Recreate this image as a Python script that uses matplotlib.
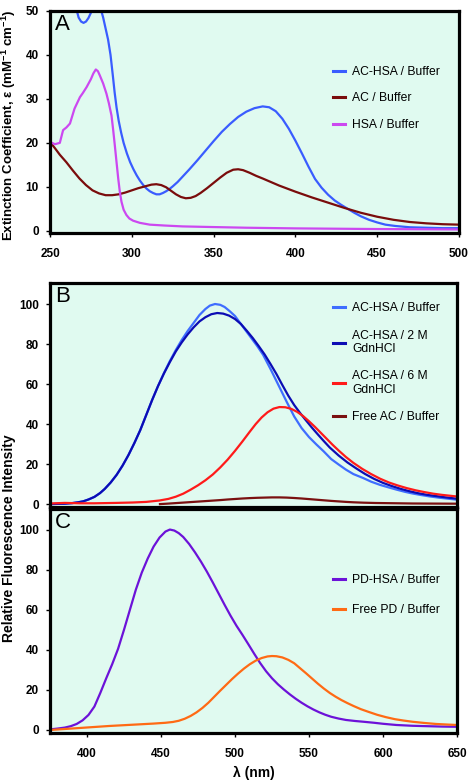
import matplotlib
matplotlib.use("Agg")
import matplotlib.pyplot as plt

plt.rcParams['font.family'] = ['Liberation Sans', 'DejaVu Sans']
plt.rcParams['mathtext.fontset'] = 'custom'
plt.rcParams['mathtext.rm'] = 'Liberation Sans'
plt.rcParams['mathtext.bf'] = 'Liberation Sans:bold'

# ---------------- Panel A: absorption ----------------
a_achsa_x = [262, 264, 266.3, 267.5, 269, 270.5, 272, 273.5, 275, 276.5, 279, 281, 282.5, 284, 285.5, 287,
             288.5, 289.5, 290.7, 292, 293.5, 295, 297, 299, 301, 303, 305, 307, 309, 311, 313, 315, 317,
             319, 321, 323, 325, 328, 331, 335, 340, 345, 350, 355, 360, 365, 370, 375, 380, 384, 388,
             392, 396, 400, 404, 408, 412, 416, 420, 424, 428, 432, 436, 440, 445, 450, 455, 461, 470,
             480, 490, 500]
a_achsa_y = [60, 55, 50.2, 48.5, 47.6, 47.3, 47.6, 48.4, 49.6, 51, 53, 50.5, 48.5, 46, 43.5, 40,
             35, 31.5, 28, 25, 22.3, 20, 17.6, 15.6, 14.0, 12.6, 11.4, 10.4, 9.6, 9.0, 8.6, 8.3, 8.3,
             8.6, 9.0, 9.5, 10.1, 11.1, 12.3, 13.9, 16.0, 18.2, 20.4, 22.5, 24.3, 25.9, 27.1, 27.9, 28.3, 28.1, 27.2,
             25.5, 23.2, 20.5, 17.6, 14.6, 11.8, 9.8, 8.2, 6.9, 5.9, 5.0, 4.1, 3.3, 2.5, 1.9, 1.4, 1.1, 0.8,
             0.7, 0.6, 0.6]

a_ac_x = [250, 253, 256, 260, 264, 268, 272, 276, 280, 284, 288, 292, 296, 300, 304, 308, 312, 315, 318,
          321, 324, 327, 330, 333, 336, 339, 342, 346, 350, 354, 358, 362, 365, 368, 372, 376, 380, 385,
          390, 395, 400, 410, 420, 430, 440, 450, 460, 470, 480, 490, 500]
a_ac_y = [20.2, 18.8, 17.3, 15.6, 13.7, 11.9, 10.4, 9.2, 8.5, 8.1, 8.1, 8.3, 8.7, 9.2, 9.7, 10.1, 10.5, 10.6, 10.4,
          9.9, 9.1, 8.3, 7.7, 7.4, 7.5, 7.9, 8.6, 9.7, 10.9, 12.1, 13.2, 13.9, 14.0, 13.8, 13.2, 12.5, 11.9, 11.1,
          10.3, 9.6, 8.9, 7.6, 6.4, 5.2, 4.1, 3.2, 2.5, 2.0, 1.7, 1.5, 1.4]

a_hsa_x = [250, 253, 256, 258, 260, 262.2, 265, 268.3, 270, 272.4, 275, 276.5, 278, 279.3, 280.5, 282.5,
           284.5, 286, 287.6, 288.6, 289.6, 290.7, 291.7, 292.7, 293.7, 295, 296.7, 298.5, 300.8, 305, 311,
           320, 331, 350, 370, 400, 450, 500]
a_hsa_y = [20.2, 19.7, 20.0, 22.9, 23.5, 24.4, 27.8, 30.4, 31.3, 32.7, 34.5, 35.8, 36.7, 36.3, 35.3, 33.5,
           31.2, 29, 26.2, 23, 19.5, 15.5, 11.9, 8.8, 6.6, 4.8, 3.6, 2.8, 2.3, 1.8, 1.4,
           1.2, 1.0, 0.85, 0.7, 0.55, 0.4, 0.3]

# ---------------- Panel B: AC fluorescence ----------------
b_buf_x = [375, 380, 385, 390, 394, 397.5, 401, 405, 408.8, 412, 416, 420, 424, 428, 432, 436, 440, 444,
           448, 452, 456, 460, 464, 468, 472, 476, 480, 483, 486.5, 490, 493, 496.6, 500, 505, 510, 515,
           519, 524, 530, 535, 540, 545, 550, 555, 560, 565, 570, 575, 580, 586.7, 592, 598, 604, 609.3,
           615, 620, 626, 631.8, 638, 644, 650]
b_buf_y = [0, 0.1, 0.2, 0.5, 0.9, 1.4, 2.3, 3.6, 5.5, 7.6, 10.8, 14.6, 19.2, 24.5, 30.5, 37, 44.5, 52,
           59, 65.5, 71.5, 77, 82, 86.5, 90.5, 94.5, 97.5, 99.2, 100, 99.6, 98.5, 96.3, 94, 89, 84, 79,
           74.6, 67.5, 58.5, 51, 43.8, 38, 33.5, 29.8, 26.3, 22.5, 19.8, 17.2, 15, 13, 11.2, 9.6, 8.3, 7.2,
           6.1, 5.3, 4.5, 3.8, 3.2, 2.7, 2.2]

b_2m_x = [375, 380, 385, 390, 394, 397.5, 401, 405, 408.8, 412, 416, 420, 424, 428, 432, 436, 440, 444,
          448, 452, 456, 460, 464, 468, 472, 476, 480, 484, 488, 492, 496, 500, 504, 508, 512, 516, 520,
          524, 528, 532, 536, 540, 544, 548, 552, 556, 560, 564, 570, 576, 582, 588, 594, 600, 606, 612,
          618, 624, 630, 636, 642, 650]
b_2m_y = [0, 0.1, 0.2, 0.5, 0.9, 1.4, 2.3, 3.6, 5.5, 7.6, 10.8, 14.6, 19.2, 24.5, 30.5, 37, 44.5, 52,
          59, 65.3, 71, 76.3, 80.8, 84.8, 88.3, 91.3, 93.4, 94.9, 95.5, 95.2, 94.2, 92.5, 90, 86.6, 83, 79,
          74.8, 70, 65, 59.5, 54.2, 49.5, 45.5, 41.8, 38.2, 34.8, 31.5, 28.3, 24.3, 20.8, 17.8, 15.0, 12.6,
          10.6, 9.0, 7.6, 6.4, 5.4, 4.6, 4.0, 3.4, 2.7]

b_6m_x = [375, 385, 395, 405, 420, 431, 440, 449, 455, 460, 465, 470, 475, 480, 485, 490, 495, 500, 505,
          510, 514, 518, 522, 526, 530, 534, 538, 542, 546, 550, 554, 558, 562, 566, 570, 575, 580, 586,
          592, 598, 604, 610, 616, 622, 628, 634, 640, 645, 650]
b_6m_y = [0.3, 0.6, 0.4, 0.4, 0.6, 0.8, 1.1, 1.8, 2.6, 3.7, 5.2, 7.2, 9.4, 11.9, 14.8, 18.3, 22.2, 26.6, 31.3,
          36.2, 40, 43.3, 45.9, 47.7, 48.5, 48.4, 47.6, 46.1, 44, 41.4, 38.6, 35.6, 32.6, 29.6, 26.8, 23.5,
          20.6, 17.6, 15, 12.7, 10.8, 9.3, 8.0, 6.9, 6.0, 5.2, 4.6, 4.2, 3.8]

b_free_x = [449.3, 455, 460, 465, 470, 475, 480, 485, 490, 495, 500, 505, 510, 515, 520, 525, 530, 535,
            540, 545, 550, 555, 560, 565, 570, 575, 580, 587, 595, 605, 620, 635, 650]
b_free_y = [0.0, 0.25, 0.5, 0.75, 1.0, 1.25, 1.5, 1.75, 2.0, 2.3, 2.55, 2.8, 3.0, 3.15, 3.25, 3.35, 3.35, 3.25,
            3.05, 2.8, 2.5, 2.2, 1.9, 1.6, 1.35, 1.1, 0.9, 0.7, 0.55, 0.45, 0.3, 0.25, 0.2]

# ---------------- Panel C: PD fluorescence ----------------
c_pdhsa_x = [375, 380, 385, 389, 393, 397, 401, 405, 409, 413, 417, 421, 425, 429, 433, 437, 441, 445,
             449, 453, 456, 459, 462, 465, 469, 473, 477, 481, 485, 489, 493, 497, 501, 505, 509, 513, 517,
             521, 525, 529, 533, 537, 541, 545, 549, 553, 557, 561, 565, 570, 575, 581, 587, 594, 600, 609,
             620, 630, 640, 650]
c_pdhsa_y = [0.3, 0.7, 1.2, 1.9, 3.0, 4.8, 7.5, 11.7, 18.5, 25.8, 32.8, 40.5, 50, 60, 70, 78.5, 85.5, 91.5,
             96, 99, 100, 99.5, 98.2, 96.3, 92.8, 88.6, 84, 79, 73.6, 68, 62.4, 57, 52, 47.5, 42.8, 38, 33.4,
             29.3, 25.8, 22.8, 20.2, 17.8, 15.6, 13.6, 11.8, 10.2, 8.8, 7.6, 6.6, 5.7, 5.0, 4.5, 4.1, 3.6, 3.1,
             2.5, 2.1, 1.9, 1.7, 1.6]

c_pd_x = [375, 385, 395, 405, 415, 425, 435, 445, 453, 458, 462, 466, 470, 474, 478, 482, 486, 490, 494,
          498, 502, 506, 510, 514, 518, 522, 525, 528, 532, 536, 540, 544, 548, 552, 556, 560, 564, 568,
          572, 576, 580, 585, 590, 596, 602, 608, 614, 620, 628, 636, 644, 650]
c_pd_y = [0.0, 0.5, 1.0, 1.5, 2.0, 2.4, 2.8, 3.2, 3.6, 4.0, 4.6, 5.6, 7.0, 8.8, 11.0, 13.6, 16.6, 19.6, 22.5,
          25.4, 28.1, 30.6, 32.8, 34.6, 35.9, 36.7, 36.9, 36.8, 36.2, 35, 33.3, 30.8, 28.3, 25.7, 23.1, 20.7,
          18.5, 16.6, 14.9, 13.4, 12.0, 10.4, 9.1, 7.6, 6.4, 5.4, 4.7, 4.1, 3.5, 3.0, 2.7, 2.5]

a_xticks = [250, 300, 350, 400, 450, 500]
a_yticks = [0, 10, 20, 30, 40, 50]
bc_xticks = [400, 450, 500, 550, 600, 650]
bc_yticks = [0, 20, 40, 60, 80, 100]

BG = '#e0faf0'
W, H = 469, 784
fig = plt.figure(figsize=(W / 100, H / 100), dpi=100)


def frac_rect(l, t, r, b):
    return [l / W, 1 - b / H, (r - l) / W, (b - t) / H]


axA = fig.add_axes(frac_rect(50, 11, 459, 233))
axB = fig.add_axes(frac_rect(50, 283, 457, 506.5))
axC = fig.add_axes(frac_rect(50, 508.5, 457, 733), sharex=axB)

for ax in (axA, axB, axC):
    ax.set_facecolor(BG)
    for s in ax.spines.values():
        s.set_linewidth(2.3)
        s.set_color('black')
    ax.tick_params(direction='out', length=3, width=1, labelsize=8.5, pad=5)

lw = 1.6
axA.plot(a_achsa_x, a_achsa_y, color='#3a5cff', lw=lw, label='AC-HSA / Buffer')
axA.plot(a_ac_x, a_ac_y, color='#7a0c0c', lw=lw, label='AC / Buffer')
axA.plot(a_hsa_x, a_hsa_y, color='#cc48f0', lw=lw, label='HSA / Buffer')
axA.set_xlim(250, 500)
axA.set_ylim(-0.5, 50)
axA.set_xticks(a_xticks)
axA.set_yticks(a_yticks)

axB.plot(b_buf_x, b_buf_y, color='#3f6dff', lw=lw, label='AC-HSA / Buffer')
axB.plot(b_2m_x, b_2m_y, color='#0c0cb4', lw=lw, label='AC-HSA / 2 M\nGdnHCl')
axB.plot(b_6m_x, b_6m_y, color='#ff1a1a', lw=lw, label='AC-HSA / 6 M\nGdnHCl')
axB.plot(b_free_x, b_free_y, color='#7a1010', lw=lw, label='Free AC / Buffer')
axB.set_ylim(-1.2, 110.5)
axB.set_yticks(bc_yticks)
axB.tick_params(axis='x', labelbottom=False, length=0)

axC.plot(c_pdhsa_x, c_pdhsa_y, color='#6c12d8', lw=lw, label='PD-HSA / Buffer')
axC.plot(c_pd_x, c_pd_y, color='#ff6a14', lw=lw, label='Free PD / Buffer')
axC.set_xlim(375, 650)
axC.set_ylim(-1.5, 110.5)
axC.set_xticks(bc_xticks)
axC.set_yticks(bc_yticks)

for ax in (axA, axB, axC):
    for lab in ax.get_xticklabels() + ax.get_yticklabels():
        lab.set_fontweight('bold')
axA.tick_params(axis='x', pad=8)
axC.tick_params(axis='x', pad=8)


def legend(ax, x, y, spacing, linesp=1.05):
    lg = ax.legend(loc='upper left', bbox_to_anchor=(x, y), frameon=False, fontsize=8.7,
                   handlelength=1.0, handletextpad=0.6, labelspacing=spacing,
                   borderpad=0, borderaxespad=0)
    for ln in lg.get_lines():
        ln.set_linewidth(2.2)
    for t in lg.get_texts():
        t.set_linespacing(linesp)
    return lg


legend(axA, 0.691, 0.753, 1.2)
legend(axB, 0.695, 0.913, 1.28, 1.12)
legend(axC, 0.695, 0.709, 1.5)

for ax, letter in ((axA, 'A'), (axB, 'B'), (axC, 'C')):
    ax.text(0.012, 0.985, letter, transform=ax.transAxes, ha='left', va='top', fontsize=16)

fig.text(9 / W, 1 - 125 / H, r'Extinction Coefficient, ε (mM$^{\mathbf{-1}}$ cm$^{\mathbf{-1}}$)',
         rotation=90, ha='center', va='center', fontsize=9.5, fontweight='bold')
fig.text(9 / W, 1 - 538.5 / H, 'Relative Fluorescence Intensity',
         rotation=90, ha='center', va='center', fontsize=10, fontweight='bold')
axC.set_xlabel('λ (nm)', fontsize=10, fontweight='bold', labelpad=4)

fig.savefig('out.png', dpi=100)
